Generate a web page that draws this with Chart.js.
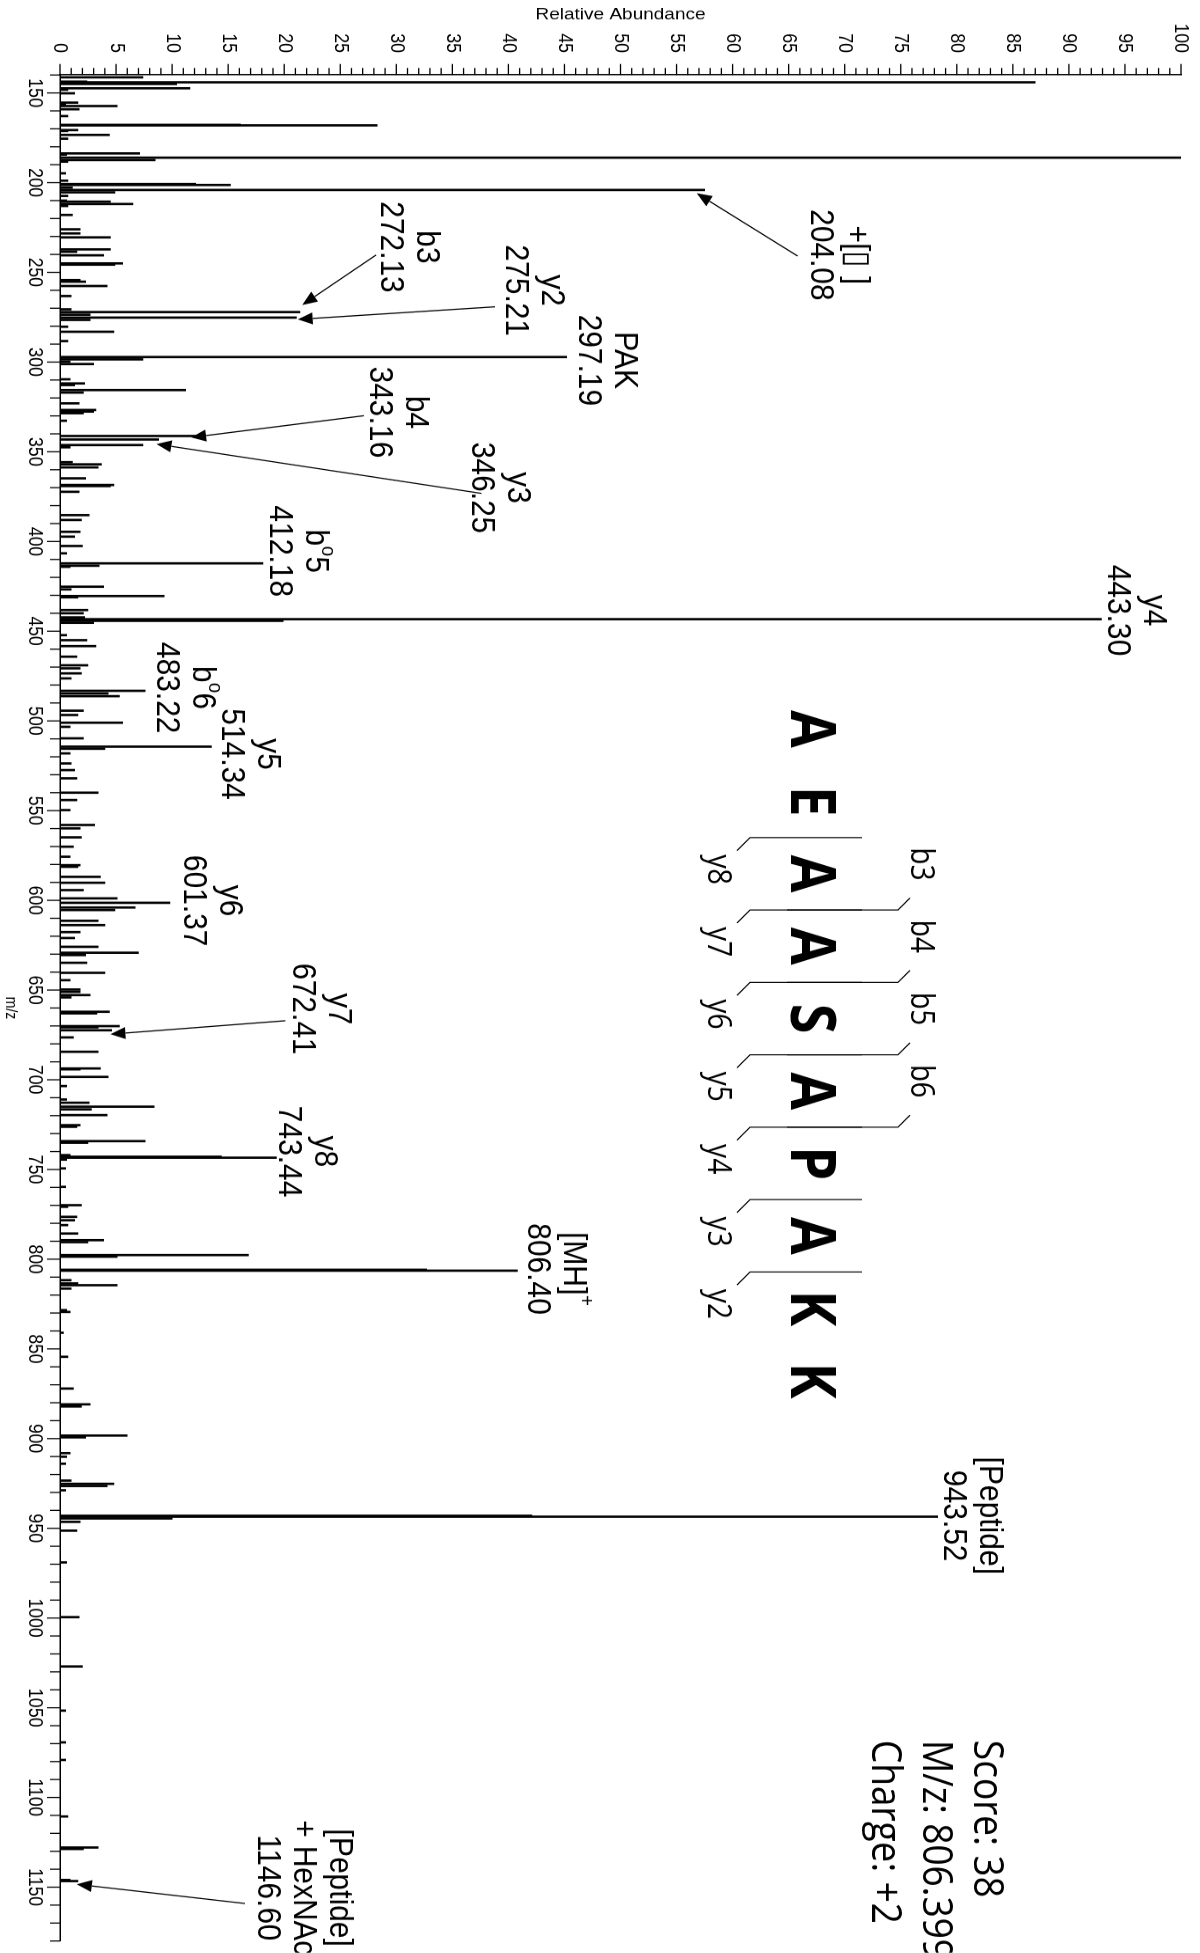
<!DOCTYPE html>
<html>
<head>
<meta charset="utf-8">
<title>MS/MS spectrum AEAASAPAKK</title>
<script src="https://cdn.jsdelivr.net/npm/chart.js@4.4.1/dist/chart.umd.min.js"></script>
<style>
  html, body { margin: 0; padding: 0; background: #fff; overflow: hidden; }
  body { width: 1200px; height: 1953px; position: relative; }
  #frame { position: absolute; left: 0; top: 0; width: 2219px; height: 1200px;
           transform-origin: 0 0; transform: translate(1200px, 0) rotate(90deg) scaleX(0.88); }
  canvas { display: block; }
</style>
</head>
<body>
<div id="frame"><canvas id="spectrum" width="2219" height="1200"></canvas></div>
<script>
// peak list (m/z, relative abundance %)
const MZ = [
  141.3, 143.7, 144.07, 145.0, 147.4, 148.2, 150.2, 155.4, 156.3, 157.3, 159.1, 162.9,
  167.8, 168.07, 170.7, 171.2, 173.4, 175.5, 183.7, 184.4, 186.08, 187.4, 188.3, 194.8,
  198.9, 200.8, 201.3, 202.8, 204.08, 205.4, 207.4, 210.0, 210.6, 211.9, 213.0, 218.0,
  226.0, 228.3, 230.5, 237.2, 238.5, 240.5, 245.0, 245.7, 254.3, 255.2, 257.6, 263.2,
  270.6, 272.13, 273.6, 275.21, 276.5, 280.3, 283.1, 288.3, 297.19, 298.5, 299.8, 301.1,
  309.6, 311.9, 312.8, 315.6, 317.0, 323.0, 326.7, 327.6, 328.5, 332.7, 341.2, 343.16,
  346.25, 347.5, 355.8, 357.0, 358.7, 364.8, 368.5, 369.1, 372.3, 385.3, 388.0, 394.6,
  397.3, 402.5, 406.6, 412.18, 413.5, 414.1, 425.2, 426.7, 430.4, 431.1, 438.2, 440.0,
  442.3, 443.30, 444.2, 445.3, 452.2, 455.0, 458.3, 464.2, 469.0, 470.7, 473.5, 476.3,
  483.22, 484.7, 486.2, 494.3, 496.7, 501.0, 503.3, 509.7, 514.34, 515.5, 518.1, 523.7,
  527.4, 532.0, 540.0, 544.1, 549.7, 558.0, 559.9, 564.9, 570.1, 575.7, 580.4, 581.3,
  586.9, 590.2, 594.3, 598.9, 601.37, 604.0, 605.4, 611.4, 613.8, 617.7, 621.0, 625.9,
  629.2, 630.5, 634.8, 640.4, 644.5, 649.7, 651.0, 652.8, 654.1, 662.1, 663.0, 670.1,
  670.8, 672.41, 676.4, 684.4, 693.7, 694.2, 698.4, 703.5, 711.0, 712.8, 715.0, 716.5,
  719.7, 725.3, 726.2, 734.2, 735.1, 742.0, 742.9, 743.44, 744.5, 749.4, 759.7, 769.9,
  770.8, 776.4, 778.3, 781.0, 785.7, 789.4, 790.5, 797.7, 798.6, 805.9, 806.40, 811.7,
  813.5, 814.5, 816.4, 828.4, 829.4, 841.0, 854.4, 872.1, 880.9, 882.1, 898.3, 899.3,
  908.1, 910.1, 914.0, 923.4, 925.2, 926.4, 928.8, 943.0, 943.52, 944.5, 946.4, 951.3,
  969.0, 999.5, 1027.0, 1051.6, 1069.3, 1079.1, 1110.6, 1127.9, 1128.7, 1146.0, 1146.60
];
const ABUNDANCE = [
  7.4, 2.4, 87.0, 10.4, 11.6, 0.7, 1.3, 1.6, 0.5, 5.1, 1.7, 0.7,
  16.1, 28.3, 1.6, 0.7, 4.4, 0.7, 7.1, 0.6, 100, 8.5, 0.7, 0.5,
  0.7, 12.1, 15.2, 1.1, 57.5, 4.9, 0.7, 0.6, 4.5, 6.5, 0.7, 1.1,
  1.8, 1.8, 4.5, 4.5, 1.5, 3.9, 5.6, 4.9, 1.8, 2.3, 4.2, 1.0,
  1.0, 21.4, 2.7, 21.1, 2.7, 0.7, 4.8, 0.7, 45.2, 7.4, 0.9, 3.0,
  0.9, 2.2, 1.3, 11.2, 2.1, 1.7, 3.2, 3.0, 2.1, 0.6, 12.5, 8.8,
  7.4, 0.9, 1.1, 3.7, 3.4, 2.3, 4.8, 4.5, 1.7, 2.6, 1.9, 1.8,
  1.3, 2.0, 0.6, 18.1, 3.5, 0.9, 3.9, 1.0, 9.3, 1.6, 2.5, 2.1,
  2.2, 92.9, 19.9, 3.0, 0.6, 2.4, 3.2, 1.5, 2.5, 1.8, 1.9, 1.0,
  7.6, 4.3, 5.3, 2.1, 1.6, 5.6, 0.9, 2.1, 13.5, 4.0, 0.9, 1.0,
  1.3, 1.5, 3.4, 1.5, 0.9, 3.1, 1.8, 1.9, 1.2, 0.9, 1.8, 1.6,
  3.6, 4.0, 2.1, 5.1, 9.8, 6.7, 4.9, 3.4, 4.0, 1.8, 1.3, 3.4,
  7.0, 2.3, 2.4, 4.0, 0.9, 1.8, 1.8, 2.7, 1.0, 4.4, 3.3, 5.3,
  3.4, 4.6, 1.2, 3.4, 3.6, 1.8, 4.3, 0.6, 0.6, 2.6, 8.4, 2.8,
  4.2, 1.8, 1.5, 7.6, 2.5, 0.9, 14.4, 19.3, 0.6, 0.5, 0.5, 1.9,
  0.7, 1.5, 1.3, 0.7, 1.6, 3.9, 2.5, 16.8, 5.1, 32.7, 40.8, 1.0,
  1.6, 5.1, 1.0, 0.6, 0.9, 0.3, 0.7, 1.2, 2.7, 1.9, 6.0, 2.3,
  0.9, 0.6, 0.5, 1.0, 4.8, 4.2, 0.5, 42.1, 78.3, 10.0, 1.8, 1.5,
  0.6, 1.7, 2.0, 0.5, 0.5, 0.5, 0.7, 3.4, 2.1, 0.9, 1.6
];

// peak annotations: text lines (top to bottom), anchored in data units
const LABEL_TEXT = [
  ['+[\u25AF ]', '204.08'], ['b3', '272.13'], ['y2', '275.21'], ['PAK', '297.19'],
  ['b4', '343.16'], ['y3', '346.25'], ['b^{o}5', '412.18'], ['y4', '443.30'],
  ['b^{o}6', '483.22'], ['y5', '514.34'], ['y6', '601.37'], ['y7', '672.41'],
  ['y8', '743.44'], ['[MH]^{+}', '806.40'], ['[Peptide]', '943.52'],
  ['[Peptide]', '+ HexNAc', '1146.60']
];
const LABEL_MZ = [240.3, 235.9, 260.0, 299.0, 328.0, 370.0, 405.4, 438.4,
                  481.5, 518.5, 600.2, 660.5, 740.0, 805.5, 943.0, 1150.3];
const LABEL_ABUNDANCE = [67.8, 29.5, 40.6, 47.1, 28.5, 37.6, 19.6, 94.3,
                         9.5, 15.3, 11.9, 21.6, 20.4, 42.6, 79.7, 18.5];
// arrows: [from m/z, from %, to m/z, to %]
const ARROWS = [
  [240.9, 65.8, 205.9, 56.8],
  [240.3, 28.2, 268.2, 21.6],
  [269.2, 38.8, 276.2, 21.2],
  [329.9, 27.1, 342.0, 11.7],
  [373.2, 37.6, 345.7, 8.6],
  [667.1, 20.1, 674.6, 4.5],
  [1159.1, 16.5, 1148.4, 1.5]
];

const SEQUENCE = 'AEAASAPAKK';
const B_IONS = [3, 4, 5, 6];
const Y_IONS = [8, 7, 6, 5, 4, 3, 2];
const SUMMARY = ['Score: 38', 'M/z: 806.399', 'Charge: +2'];

const SQUEEZE = 0.88;
const vx = v => v / SQUEEZE;
const SANS = '"Liberation Sans", Arial, sans-serif';
const OPEN = '"Open Sans", "Noto Sans", sans-serif';

function drawRich(ctx, text, x, y, size) {
  const parts = text.split(/\^\{|\}/);
  const fonts = parts.map((p, i) => (i % 2 ? size * 0.62 : size) + 'px ' + SANS);
  let total = 0;
  const widths = parts.map((p, i) => {
    ctx.font = fonts[i];
    const w = ctx.measureText(p).width;
    total += w;
    return w;
  });
  let cx = x - total / 2;
  ctx.textAlign = 'left';
  parts.forEach((p, i) => {
    ctx.font = fonts[i];
    ctx.fillText(p, cx, i % 2 ? y - size * 0.36 : y);
    cx += widths[i];
  });
}

function drawArrow(ctx, x1, y1, x2, y2) {
  const dx = (x2 - x1) * SQUEEZE, dy = y2 - y1;
  const d = Math.hypot(dx, dy), ux = dx / d, uy = dy / d;
  const len = 15, half = 6;
  const bx = x2 - ux * len / SQUEEZE, by = y2 - uy * len;
  ctx.beginPath();
  ctx.moveTo(x1, y1);
  ctx.lineTo(bx, by);
  ctx.stroke();
  ctx.beginPath();
  ctx.moveTo(x2, y2);
  ctx.lineTo(bx - uy * half / SQUEEZE, by + ux * half);
  ctx.lineTo(bx + uy * half / SQUEEZE, by - ux * half);
  ctx.closePath();
  ctx.fill();
}

function line(ctx, pts) {
  ctx.beginPath();
  pts.forEach((p, i) => i ? ctx.lineTo(vx(p[0]), p[1]) : ctx.moveTo(vx(p[0]), p[1]));
  ctx.stroke();
}

const tickMarks = {
  id: 'tickMarks',
  afterDraw(chart) {
    const {ctx, scales: {x, y}} = chart;
    ctx.save();
    ctx.strokeStyle = '#000';
    ctx.lineWidth = 1.3;
    x.ticks.forEach(t => {
      const px = x.getPixelForValue(t.value);
      const len = t.value % 50 === 0 ? 13 : 10;
      ctx.beginPath();
      ctx.moveTo(px, x.top);
      ctx.lineTo(px, x.top + len);
      ctx.stroke();
    });
    y.ticks.forEach(t => {
      const py = y.getPixelForValue(t.value);
      const len = vx(t.value % 5 === 0 ? 11 : 7);
      ctx.beginPath();
      ctx.moveTo(y.right - len, py);
      ctx.lineTo(y.right, py);
      ctx.stroke();
    });
    ctx.restore();
  }
};

const annotations = {
  id: 'annotations',
  afterDraw(chart) {
    const {ctx, scales: {x, y}} = chart;
    ctx.save();
    ctx.fillStyle = '#000';
    ctx.strokeStyle = '#000';

    // peak labels
    ctx.textBaseline = 'middle';
    LABEL_TEXT.forEach((lines, i) => {
      const px = x.getPixelForValue(LABEL_MZ[i]);
      const py = y.getPixelForValue(LABEL_ABUNDANCE[i]);
      lines.forEach((t, j) => drawRich(ctx, t, px, py - (lines.length - 1 - j) * 36, 34));
    });

    ctx.lineWidth = 1.3;
    ARROWS.forEach(a => drawArrow(ctx,
      x.getPixelForValue(a[0]), y.getPixelForValue(a[1]),
      x.getPixelForValue(a[2]), y.getPixelForValue(a[3])));

    // sequence with fragment brackets
    const left = 729, step = 72.4;
    ctx.font = 'bold 62px ' + OPEN;
    ctx.textAlign = 'center';
    ctx.textBaseline = 'alphabetic';
    [...SEQUENCE].forEach((c, i) => ctx.fillText(c, vx(left + i * step), 409));

    ctx.lineWidth = 1.2;
    ctx.font = '32px ' + OPEN;
    ctx.textBaseline = 'middle';
    B_IONS.forEach(k => {
      const bx = left + (k - 0.5) * step;
      line(ctx, [[bx, 413], [bx, 302], [bx - 12, 290]]);
      ctx.fillText('b' + k, vx(bx - 46), 280);
    });
    Y_IONS.forEach(k => {
      const bx = left + (SEQUENCE.length - k - 0.5) * step;
      line(ctx, [[bx, 338], [bx, 450], [bx + 13, 463]]);
      ctx.fillText('y' + k, vx(bx + 32), 483);
    });

    // score block
    ctx.font = '42px ' + OPEN;
    ctx.textAlign = 'left';
    ctx.textBaseline = 'alphabetic';
    SUMMARY.forEach((t, i) => ctx.fillText(t, vx(1740), 226 + i * 51));
    ctx.restore();
  }
};

const peaks = MZ.map((m, i) => ({x: m, y: ABUNDANCE[i]}));

new Chart(document.getElementById('spectrum'), {
  type: 'bar',
  data: {
    datasets: [{
      data: peaks,
      backgroundColor: '#000',
      borderWidth: 0,
      barThickness: 2
    }]
  },
  options: {
    responsive: false,
    animation: false,
    devicePixelRatio: 1,
    layout: { padding: { top: 19, right: 2219 - vx(1941), left: 0, bottom: 0 } },
    plugins: { legend: { display: false }, tooltip: { enabled: false } },
    scales: {
      x: {
        type: 'linear',
        min: 140,
        max: 1180,
        offset: false,
        grid: { display: false, drawTicks: false },
        border: { display: true, color: '#000', width: 1.5 },
        ticks: {
          stepSize: 10,
          autoSkip: false,
          maxRotation: 0,
          padding: 13,
          color: '#000',
          font: { family: SANS, size: 20 },
          callback: v => (v % 50 === 0 ? String(v) : '')
        },
        title: { display: true, text: 'm/z', color: '#000',
                 font: { family: SANS, size: 16 }, padding: { top: 0, bottom: 1 } },
        afterFit: s => { s.height = 60; s.paddingLeft = 0; s.paddingRight = 0; }
      },
      y: {
        min: 0,
        max: 100,
        grid: { display: false, drawTicks: false },
        border: { display: true, color: '#000', width: 1.5 },
        ticks: {
          stepSize: 1,
          autoSkip: false,
          padding: 25,
          color: '#000',
          font: { family: SANS, size: 20 },
          callback: v => (v % 5 === 0 ? String(v) : '')
        },
        title: { display: true, text: 'Relative Abundance', color: '#000',
                 font: { family: SANS, size: 19 }, padding: { top: 5, bottom: 0 } },
        afterFit: s => { s.width = vx(75); s.paddingTop = 0; s.paddingBottom = 0; }
      }
    }
  },
  plugins: [tickMarks, annotations]
});
</script>
</body>
</html>
